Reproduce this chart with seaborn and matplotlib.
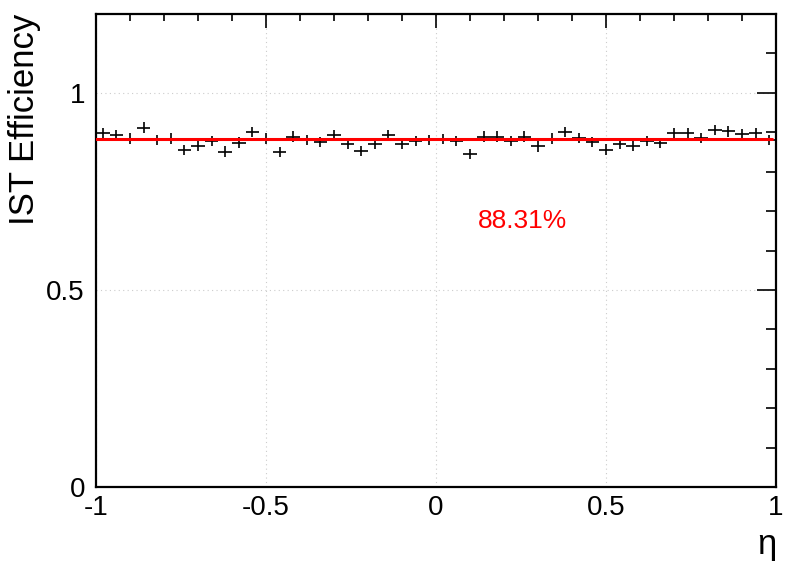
import numpy as np
import pandas as pd
import seaborn as sns
import matplotlib.pyplot as plt
from matplotlib.ticker import MultipleLocator

# efficiency per eta bin (50 bins, -1..1)
eta_edges = np.linspace(-1, 1, 51)
eta_centers = 0.5 * (eta_edges[:-1] + eta_edges[1:])
efficiency = [0.898, 0.893, 0.884, 0.912, 0.881, 0.884, 0.855, 0.866, 0.877, 0.851,
              0.874, 0.901, 0.884, 0.849, 0.889, 0.880, 0.876, 0.893, 0.870, 0.853,
              0.870, 0.893, 0.870, 0.877, 0.881, 0.883, 0.878, 0.845, 0.889, 0.889,
              0.878, 0.889, 0.864, 0.884, 0.901, 0.885, 0.876, 0.856, 0.870, 0.866,
              0.878, 0.873, 0.898, 0.898, 0.885, 0.906, 0.902, 0.895, 0.897, 0.880]
eff_err = 0.013
fit_value = 0.8831
fit_range = [-1.0, 0.987]
fit_label = "88.31%"

df = pd.DataFrame({"eta": eta_centers, "eff": efficiency})
fit_df = pd.DataFrame({"eta": fit_range, "eff": [fit_value, fit_value]})

sns.set_theme(style="white")
plt.rcParams['font.family'] = ['Liberation Sans', 'DejaVu Sans']
plt.rcParams['text.color'] = 'black'
plt.rcParams['axes.labelcolor'] = 'black'

fig = plt.figure(figsize=(7.96, 5.72), dpi=100)
ax = fig.add_axes([0.1206, 0.1486, 0.8543, 0.8269])

# data points with bin-width x errors
ax.errorbar(df["eta"], df["eff"], xerr=0.02, yerr=eff_err, fmt='none',
            ecolor='black', elinewidth=1.2, capsize=0, zorder=3)

# constant fit
sns.lineplot(data=fit_df, x="eta", y="eff", color='red', linewidth=2.2, ax=ax, zorder=4)

ax.text(0.253, 0.676, fit_label, color='red', fontsize=19, ha='center', va='center')

ax.set_xlim(-1, 1)
ax.set_ylim(0, 1.2)
ax.xaxis.set_minor_locator(MultipleLocator(0.1))
ax.yaxis.set_minor_locator(MultipleLocator(0.1))
ax.set_xticks([-1, -0.5, 0, 0.5, 1])
ax.set_xticklabels(["-1", "-0.5", "0", "0.5", "1"])
ax.set_yticks([0, 0.5, 1])
ax.set_yticklabels(["0", "0.5", "1"])

ax.tick_params(axis='both', which='both', direction='in', top=True, right=True,
               colors='black', labelsize=20, width=1.2)
ax.tick_params(axis='x', which='major', length=10, pad=6)
ax.tick_params(axis='x', which='minor', length=5)
ax.tick_params(axis='y', which='major', length=14, pad=8)
ax.tick_params(axis='y', which='minor', length=7)

ax.grid(True, which='major', linestyle=(0, (1, 3)), color='#cccccc', linewidth=0.8)
for s in ax.spines.values():
    s.set_color('black')
    s.set_linewidth(1.6)

ax.set_xlabel("η", fontsize=25, loc='right', labelpad=5, color='black')
ax.set_ylabel("IST Efficiency", fontsize=25, loc='top', labelpad=4, color='black')

fig.savefig("out.png", dpi=100)
